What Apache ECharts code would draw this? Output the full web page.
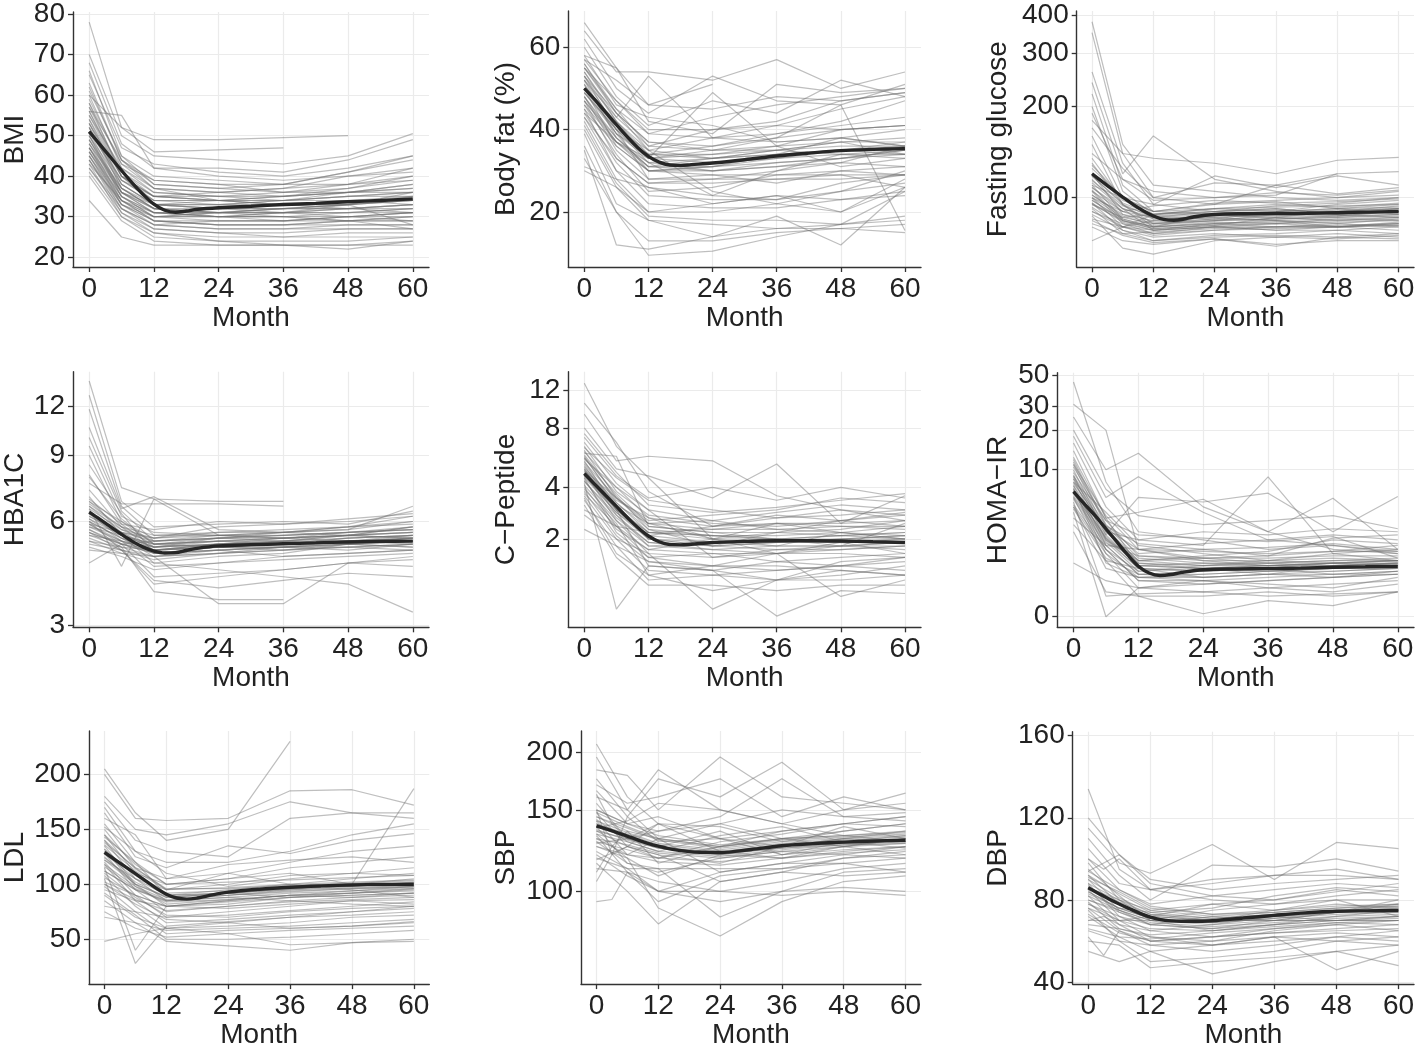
<!DOCTYPE html>
<html><head><meta charset="utf-8">
<script src="https://cdn.jsdelivr.net/npm/echarts@6/dist/echarts.min.js"></script>
<style>html,body{margin:0;padding:0;background:#fff}#c{width:1418px;height:1050px}</style>
</head><body><div id="c"></div><script>
// ---- time grids ----
const monthsStd = [0, 6, 12, 24, 36, 48, 60];
const monthsBP = [0, 3, 6, 12, 24, 36, 48, 60];
const meanMonths = [0, 2, 4, 6, 8, 10, 12, 14, 16, 18, 20, 24, 30, 36, 42, 48, 54, 60];
const xTicks = [0, 12, 24, 36, 48, 60];

// ---- BMI ----
const bmiSubjects = [
 [60,52,49,49,49.5,50,null],[78,52,46,46.5,47,null,null],[70,50,45,44,43,45,50.5],[68,48,42,42,41,44,49],
 [66,45,40,39,38,41,45],[65,47,43,41,40,42,45],[63,44,38,37,38,41,44],[62,44,39,38,36,38,42],
 [60,42,37,36,35,37,40],[58,40,35,34,34,36,38],[57,41,36,35,35,36,36],[56,40,34,33,33,34,35],
 [56,55,42,40,39,40,41],[54,38,33,32,32,33,34],[53,37,32,31,31,32,33],[52,39,34,34,33,33,36],
 [51,36,31,30,30,31,32],[50,35,30,29,29,30,31],[50,38,33,33,34,35,36],[49,36,31,30,31,30,30],
 [48,34,29,28,28,29,29],[47,35,30,30,30,29,30],[47,33,28,27,27,28,28],[46,34,29,28,28,28,28],
 [45,32,27,26,26,27,27],[45,33,30,31,32,33,34],[44,31,27,26,25,26,26],[44,32,28,29,29,30,31],
 [43,30,26,25,25,25,25],[42,31,26,24,24,24,25],[41,30,25,24,23,22,24],[40,29,24,23,23,23,23],
 [34,25,23,23,23,23,24],[48,37,32,32,33,33,34],[55,42,36,35,36,37,39],[61,45,38,37,36,36,37],
 [52,38,33,33,34,35,35],[46,33,29,29,29,30,29],[58,43,39,38,38,38,39],[49,35,31,31,31,33,28],
 [57,44,37,34,33,32,31],[43,34,30,30,31,32,33],[53,40,35,36,37,40,42],[47,36,32,31,30,29,27],
 [50,36,32,31,32,33,35],[54,40,35,34,33,34,34],[46,35,31,31,31,31,32],[52,37,32,30,30,30,31],
 [48,36,33,34,35,36,37],[56,41,35,34,34,35,36],[44,33,29,28,28,29,30],[51,39,35,35,34,34,33],
 [47,34,30,31,32,32,32],[53,39,34,34,35,36,38],[45,34,31,30,29,29,29],[49,37,33,32,31,31,31],
 [59,43,37,36,37,38,40],[42,32,28,27,27,27,27],[55,40,33,32,32,32,33]
];
const bmiMean = [51.0,47.8,44.6,41.4,38.3,35.5,33.1,31.6,31.1,31.4,31.8,32.2,32.6,33.0,33.3,33.7,34.0,34.4];

// ---- Body fat ----
const fatSubjects = [
 [66,55,46,45,48,47,49],[64,54,54,52,57,50,54],[62,50,44,53,47,46,51],[60,48,41,47,44,52,48],
 [58,55,42,39,51,49,50],[57,47,39,43,46,48,50],[56,45,36,40,42,47,49],[55,44,35,38,41,45,48],
 [54,42,34,36,39,42,47],[53,40,33,34,36,40,41],[52,43,53,38,37,38,36],[52,38,31,33,35,37,34],
 [51,39,30,31,33,35,37],[50,36,30,30,32,33,35],[49,40,28,28,30,34,33],[48,35,28,29,27,30,29],
 [48,37,32,24,30,32,36],[47,33,27,28,28,28,29],[46,34,25,26,29,29,26],[45,30,26,22,24,23,25],
 [44,32,24,23,23,25,27],[43,30,22,21,21,23,24],[42,28,20,20,22,20,28],[41,27,19,18,18,17,19],
 [40,26,18,17,16,17,18],[39,22,18,14,16,16,17],[36,20,13,13,15,16,15],[35,12,11,14,19,12,26],
 [33,20,9.5,10.5,14,17,25],[31,28,26,24,23,27,29],[30,26,20,22,24,20,26],[55,47,40,40,41,40,41],
 [53,44,37,35,35,34,34],[50,42,33,49,36,31,33],[47,38,31,30,31,32,31],[44,37,30,31,34,38,36],
 [58,46,43,41,37,38,40],[49,40,35,25,22,25,30],[46,37,33,35,38,46,15.5],[57,52,46,51,null,null,null],
 [52,41,34,33,34,35,36],[49,39,33,32,33,34,35],[54,43,36,35,36,37,37],[47,37,31,31,32,33,34],
 [51,40,32,30,31,33,35],[56,44,37,36,38,40,41],[45,36,30,29,29,30,31],[50,39,34,34,35,36,36],
 [53,42,35,33,34,35,34],[48,38,32,33,35,37,38],[55,45,39,38,39,41,43],[43,33,27,27,28,29,29]
];
const fatMean = [50.0,47.2,44.2,41.2,38.3,35.6,33.5,32.1,31.4,31.3,31.5,31.9,32.7,33.6,34.3,34.9,35.2,35.4];

// ---- Fasting glucose ----
const gluSubjects = [
 [380,150,110,105,100,98,100],[350,140,100,95,97,92,95],[260,130,95,90,92,88,90],[240,120,160,115,105,100,105],
 [220,110,90,88,85,86,88],[200,105,88,92,90,95,98],[180,140,135,130,120,133,136],[170,125,100,112,110,120,122],
 [160,100,85,86,84,82,85],[150,95,82,84,85,87,90],[140,115,105,100,104,102,106],[130,95,80,82,80,80,83],
 [125,100,90,95,110,103,108],[120,88,84,88,90,92,88],[115,92,78,82,84,80,82],[110,85,80,88,86,90,92],
 [108,90,86,85,90,88,86],[105,82,76,80,78,78,80],[102,88,82,84,88,90,94],[100,80,75,78,80,82,80],
 [98,84,80,83,82,85,84],[96,78,72,75,76,78,76],[95,86,88,92,95,93,96],[93,80,78,80,82,80,78],
 [92,76,72,74,75,74,76],[90,82,78,80,78,80,82],[88,78,74,76,74,76,74],[87,68,65,72,74,73,75],
 [85,80,84,86,88,87,90],[84,75,71,73,70,72,72],[82,76,77,79,80,80,81],[80,72,70,73,69,74,73],
 [72,80,88,90,92,88,92],[110,100,95,118,108,118,110],[135,98,90,96,98,100,102],[118,95,86,90,94,96,100],
 [100,90,94,98,96,97,99],[106,84,79,81,86,84,86],[190,115,98,100,102,120,null],
 [105,90,83,85,86,87,88],[112,92,86,88,89,91,92],[98,85,80,82,83,84,85],[118,96,88,90,91,90,92],
 [95,84,79,81,82,83,84],[128,100,90,92,93,94,95],[102,87,81,84,85,86,87],[90,80,76,78,79,80,81],
 [108,92,85,87,87,89,90],[96,83,78,80,80,81,82],[114,94,87,89,90,92,93],[100,86,82,85,84,85,86]
];
const gluMean = [120,113,106.5,100.5,95,90.5,87,84.8,84.2,85,86.5,88,88.5,88.6,88.8,89.2,89.6,90];

// ---- HBA1C ----
const hbaSubjects = [
 [13.9,7.4,6.9,6.8,6.8,null,null],[12.8,6.8,5.8,5.9,6.0,5.9,6.4],[11.8,6.6,5.5,5.6,5.6,5.5,5.8],[10.6,6.5,7.0,5.7,5.6,5.8,6.2],
 [10.0,6.4,5.3,5.4,5.5,5.6,5.7],[9.5,6.2,5.6,5.5,5.6,5.7,6.6],[9.0,6.0,5.2,5.3,5.2,5.4,5.5],[8.5,6.3,4.9,5.0,5.1,5.3,5.2],
 [8.0,5.9,5.1,5.4,5.6,5.7,6.0],[7.6,6.7,6.7,6.7,6.6,null,null],[7.3,5.8,5.0,5.2,5.3,5.5,5.4],[7.0,5.5,4.6,4.8,4.9,5.2,5.1],
 [6.8,5.7,5.4,5.8,5.9,6.0,6.2],[6.6,5.6,5.0,5.1,5.0,5.2,5.3],[6.5,4.5,6.9,5.5,5.4,5.5,5.6],[6.4,5.5,5.1,5.3,5.4,5.5,5.8],
 [6.3,5.4,4.8,4.9,5.0,5.1,5.0],[6.2,5.6,5.3,5.5,5.6,5.8,5.9],[6.1,5.3,4.5,4.6,4.7,4.8,4.9],[6.0,5.4,5.0,5.1,5.2,5.3,5.5],
 [5.9,5.2,4.2,4.3,4.4,4.6,4.7],[5.8,5.5,5.2,5.4,5.3,5.5,5.4],[5.7,5.1,3.8,3.6,3.6,null,null],[5.6,5.0,4.7,4.9,5.1,5.2,5.1],
 [5.5,5.3,5.1,5.2,5.4,5.6,5.7],[5.4,5.0,4.1,3.9,4.1,4.3,4.2],[5.3,4.9,4.6,4.4,4.2,4.0,3.3],[5.2,5.0,4.8,3.5,3.5,4.6,4.8],
 [5.1,4.8,4.4,4.6,4.8,4.9,5.0],[5.0,4.9,4.8,5.0,5.1,5.0,5.2],[4.6,5.2,5.3,5.4,5.5,5.6,5.8],[5.9,5.6,5.4,5.6,5.7,5.8,6.0],
 [6.7,5.8,5.5,5.5,5.4,5.3,5.3],[7.9,6.1,5.2,5.1,5.3,5.2,5.4],[6.9,5.9,5.7,6.0,5.9,6.1,6.3],[5.6,5.2,4.9,5.0,4.8,4.9,5.0],
 [6.0,5.0,4.0,4.2,4.4,4.6,4.5],[5.3,5.1,5.0,5.2,5.2,5.4,5.5],
 [6.2,5.5,5.1,5.2,5.3,5.3,5.4],[5.8,5.3,4.9,5.0,5.1,5.2,5.3],[6.5,5.7,5.2,5.3,5.3,5.4,5.5],[6.0,5.4,5.0,5.1,5.1,5.2,5.3],
 [5.7,5.2,4.9,5.1,5.2,5.3,5.3],[6.3,5.6,5.1,5.2,5.2,5.3,5.4],[5.9,5.3,5.0,5.2,5.2,5.3,5.4],[6.1,5.5,5.2,5.3,5.4,5.5,5.6],
 [5.5,5.1,4.8,4.9,5.0,5.1,5.2],[6.6,5.8,5.3,5.4,5.4,5.5,5.6],[5.6,5.2,5.0,5.1,5.1,5.1,5.2],[6.8,6.0,5.4,5.5,5.5,5.6,5.7]
];
const hbaMean = [6.36,6.08,5.8,5.53,5.29,5.1,4.97,4.91,4.92,4.99,5.06,5.14,5.18,5.21,5.24,5.27,5.29,5.3];

// ---- C-Peptide ----
const cpepSubjects = [
 [13,6.5,4.5,2.0,2.5,2.2,2.0],[10.5,6.8,3.8,2.4,2.8,2.6,2.4],[9.3,5.5,5.8,5.5,3.6,3.0,2.8],[8.0,5.0,4.6,3.5,5.3,2.5,3.6],
 [7.2,4.6,3.5,4.0,3.4,4.0,3.5],[6.8,4.2,3.0,2.6,2.9,3.2,3.0],[6.5,3.8,2.8,2.5,2.4,2.6,2.8],[6.2,3.5,2.6,2.8,3.0,3.5,3.3],
 [6.0,5.8,2.4,2.2,2.0,2.1,2.2],[5.8,3.3,2.2,2.3,2.5,2.4,2.3],[5.5,3.0,2.0,1.8,1.9,2.0,2.1],[5.3,3.2,2.5,2.0,2.2,2.3,2.6],
 [5.0,2.8,1.8,1.9,2.0,1.8,1.7],[4.8,2.6,1.6,1.5,1.7,1.8,1.9],[4.6,2.9,2.1,2.4,2.7,3.0,2.6],[4.4,2.4,1.5,1.6,1.4,1.5,1.6],
 [4.2,0.5,1.3,1.2,1.4,1.3,1.5],[4.0,2.3,1.7,2.0,1.8,2.2,2.0],[3.8,2.1,1.4,1.3,1.2,1.3,1.4],[3.6,2.0,1.2,1.1,1.2,1.3,1.2],
 [3.4,1.8,1.0,1.1,1.0,1.2,1.1],[3.2,1.5,0.9,0.9,0.8,0.9,0.9],[3.0,2.4,2.2,2.1,2.0,1.9,2.0],[2.8,2.0,1.6,0.5,1.0,1.0,1.1],
 [2.3,1.8,1.4,1.2,0.4,0.8,0.75],[5.6,4.0,3.0,1.5,1.6,0.7,1.0],[6.4,4.5,3.4,3.0,2.7,2.8,3.0],[4.9,3.5,2.5,2.6,2.3,2.2,2.4],
 [5.2,3.0,1.3,1.2,1.0,1.1,1.3],[4.3,2.7,1.9,1.7,1.6,1.7,1.8],[3.9,2.5,1.1,0.8,1.0,1.4,1.5],[5.9,3.6,2.3,1.8,2.2,2.6,2.9],
 [4.5,2.2,1.5,1.3,1.3,1.2,1.1],[3.5,1.6,1.1,1.3,1.6,1.9,1.6],[7.5,4.8,3.2,2.9,3.1,3.4,3.7],[5.7,3.4,2.7,2.0,1.6,1.8,2.5],
 [4.7,3.0,2.1,1.9,1.9,2.0,2.0],[5.1,3.3,2.3,2.1,2.1,2.2,2.1],[4.5,2.9,2.0,1.8,1.9,1.9,1.9],[5.4,3.5,2.4,2.2,2.2,2.1,2.0],
 [4.1,2.6,1.8,1.7,1.8,1.8,1.8],[4.9,3.1,2.2,2.0,2.0,2.1,2.2],[5.7,3.7,2.5,2.3,2.3,2.4,2.4],[4.3,2.8,1.9,1.8,1.7,1.7,1.8],
 [6.1,4.0,2.7,2.4,2.5,2.5,2.6],[3.7,2.4,1.7,1.6,1.6,1.6,1.5],[5.0,3.2,2.0,1.9,1.8,1.8,1.9],[4.6,3.0,2.2,2.1,2.0,2.0,2.1]
];
const cpepMean = [4.73,4.14,3.61,3.14,2.72,2.36,2.09,1.92,1.84,1.83,1.85,1.90,1.93,1.95,1.95,1.94,1.92,1.90];

// ---- HOMA-IR ----
const homaSubjects = [
 [45,8,3,2.5,2,2.2,1.8],[31,20,2,1.5,1.3,1.4,1.5],[25,10,13.4,5,3,2,1.8],[18,6,8.8,4.5,2.5,2.8,2.5],
 [16,5,2.5,2.2,8.8,1.8,1.5],[14,4,4.5,5.8,3,5.9,2.0],[12,3.5,1.8,2,1.7,1.9,2.2],[11,3,1.5,1.3,1.4,1.3,1.4],
 [10,2.8,6.0,5.5,6.5,3,6.1],[9,2.5,1.2,1.1,1.2,1.0,1.1],[8.5,2.2,1.0,0.9,1.0,1.1,1.2],[8,4.5,2.2,1.8,1.5,1.6,1.5],
 [7.5,2.0,0.8,0.7,0.8,0.9,1.0],[7,1.8,0.6,0.5,0.6,0.7,0.8],[6.5,2.5,1.5,1.7,1.9,2.5,2.3],[6,1.5,0.4,0.4,0.5,0.4,0.5],
 [5.5,0.4,0.45,0.5,0.4,0.45,0.5],[5,1.2,0.9,1.0,1.1,1.2,1.3],[4.5,0.0,0.6,0.8,0.7,0.6,0.9],[4,2.2,2.0,2.3,2.5,2.2,1.9],
 [3.5,1.5,1.2,0.9,1.0,1.3,1.4],[3,0.5,0.4,0.05,0.3,0.2,0.5],[1.4,0.8,0.6,0.7,0.8,0.9,1.0],[7.8,3.2,2.0,1.6,1.7,2.6,2.8],
 [9.5,3.8,2.8,2.6,2.4,2.7,1.6],[6.8,2.6,1.4,1.2,1.3,1.2,1.2],[5.8,2.0,1.1,1.3,1.5,1.8,2.0],[12.5,4.0,1.3,1.2,1.0,0.9,1.1],
 [7.2,1.4,0.9,0.8,0.6,0.5,0.7],[8.8,3.0,2.5,3.0,2.8,3.2,3.0],[4.8,1.6,1.0,1.1,1.2,1.4,1.3],[6.2,2.3,1.7,1.6,1.4,1.5,1.6],
 [20,7,4.2,3.5,3.8,4.2,3.2],[11.5,3.4,2.3,2.0,2.1,2.3,2.0],
 [7,2.6,1.2,1.1,1.2,1.2,1.3],[8,3,1.4,1.3,1.3,1.4,1.4],[6,2.2,1.0,1.0,1.1,1.1,1.2],[9,3.4,1.6,1.4,1.4,1.5,1.5],
 [5,1.8,0.9,0.9,1.0,1.0,1.1],[10.5,3.8,1.7,1.5,1.5,1.4,1.5],[7.5,2.8,1.3,1.2,1.1,1.2,1.3],[6.5,2.4,1.1,1.2,1.3,1.3,1.4],
 [8.5,3.2,1.5,1.6,1.6,1.7,1.7],[5.2,2.0,0.8,0.8,0.9,1.0,1.0],[11,4.2,2.0,1.9,1.8,1.9,1.9],[6.8,2.7,1.3,1.4,1.3,1.4,1.5]
];
const homaMean = [6.7,5.3,4.2,3.2,2.4,1.75,1.28,1.04,0.96,0.99,1.06,1.15,1.18,1.19,1.21,1.24,1.26,1.28];

// ---- LDL ----
const ldlSubjects = [
 [205,165,140,150,230,null,null],[200,160,158,160,185,186,172],[180,150,145,155,175,165,160],[175,140,130,125,160,165,165],
 [170,130,120,120,130,145,155],[165,125,115,135,128,140,146],[160,145,105,110,120,130,135],[155,120,100,105,115,120,125],
 [150,115,95,100,108,110,115],[145,110,90,95,100,105,110],[140,105,85,90,95,98,102],[135,100,80,85,90,92,95],
 [130,110,100,105,110,100,187],[128,95,75,80,85,88,90],[125,100,88,92,96,100,105],[120,90,70,75,80,85,82],
 [118,85,65,68,72,75,78],[115,40,80,82,88,92,96],[110,88,72,70,75,78,80],[108,80,60,62,65,70,72],
 [105,28,62,66,70,72,75],[100,82,68,65,60,62,66],[98,75,55,58,60,62,65],[95,85,80,85,90,88,92],
 [92,72,50,50,52,55,58],[90,70,60,55,45,47,50],[85,65,48,44,40,47,48],[80,75,70,72,76,80,84],
 [75,60,52,55,58,60,62],[70,65,58,60,62,65,68],[48,55,60,65,70,75,80],[138,115,105,118,122,125,120],
 [152,130,110,98,105,110,108],[122,105,95,110,100,95,88],[112,95,85,88,85,82,80],[102,90,80,78,82,85,86],
 [132,98,82,86,90,94,98],[143,120,90,92,88,90,92],
 [128,105,90,92,95,97,98],[118,98,86,90,94,96,98],[136,112,95,97,100,102,104],[112,95,84,86,90,92,94],
 [124,102,88,92,96,99,100],[145,118,100,102,104,106,108],[106,90,80,84,88,90,92],[132,108,92,94,97,100,101],
 [100,86,76,80,84,86,88],[140,114,96,96,99,101,103],[116,96,85,88,92,94,96],[122,100,89,90,93,96,97]
];
const ldlMean = [129,122.5,116,109.6,103,96.5,91,87.5,86.5,87.5,89.5,92.8,95.5,97.3,98.5,99.4,99.8,100];

// ---- SBP ----
const sbpSubjects = [
 [208,null,160,140,130,135,140,145],[195,null,150,183,150,140,150,155],[183,null,178,150,195,160,155,150],[175,null,145,175,160,190,150,163],
 [170,null,155,160,175,145,160,150],[165,null,140,135,145,175,145,148],[160,null,150,130,140,130,135,140],[155,null,130,125,120,125,130,135],
 [150,null,140,145,130,120,128,132],[148,null,125,120,115,125,130,128],[145,null,135,115,125,135,140,138],[142,null,120,130,110,115,120,125],
 [140,null,130,125,135,120,125,130],[138,null,115,110,118,122,120,118],[135,null,125,120,105,110,118,122],[132,null,110,105,100,105,112,115],
 [130,null,120,118,125,130,125,120],[128,null,115,112,88,100,110,112],[125,null,118,92,80,95,105,108],[122,null,112,100,110,115,115,110],
 [120,null,108,100,95,100,102,100],[118,null,112,112,112,112,115,118],[115,null,100,85,105,110,108,110],[112,null,110,100,100,98,100,98],
 [110,125,135,130,125,130,132,135],[105,120,125,140,138,128,135,140],[95,96,110,95,108,112,118,120],[150,120,145,128,130,125,138,130],
 [162,140,130,135,140,150,145,142],[137,null,142,155,150,140,132,128],[127,null,130,140,122,118,125,130],[117,null,125,118,128,133,140,145],
 [133,null,118,108,120,118,122,125],[143,null,128,122,132,138,128,124],
 [140,null,133,126,122,126,128,130],[135,null,130,124,120,124,127,128],[145,null,137,129,124,128,130,132],[130,null,126,121,118,122,125,127],
 [138,null,131,125,121,125,127,129],[150,null,140,132,126,130,132,134],[128,null,123,118,116,120,123,125],[142,null,134,127,123,127,129,131],
 [125,null,120,116,114,118,121,123],[148,null,138,130,125,129,131,133],[133,null,128,122,119,123,126,128],[136,null,129,124,121,124,126,127]
];
const sbpMean = [138.6,136.3,134,131.6,129.2,127,125.2,123.7,122.6,121.9,121.5,121.3,123.2,125.5,126.8,127.8,128.5,129];

// ---- DBP ----
const dbpSubjects = [
 [134,null,95,85,80,78,82,85],[120,null,102,90,85,88,90,92],[115,null,98,93,107,90,108,105],[110,null,92,80,97,96,100,94],
 [105,null,88,85,90,92,92,90],[100,null,85,78,82,85,88,86],[98,null,80,75,78,80,85,82],[95,null,82,70,75,78,80,80],
 [92,null,78,72,70,75,78,76],[90,null,75,68,72,70,74,78],[88,null,72,65,68,72,70,72],[86,null,80,70,65,68,72,75],
 [85,null,70,62,60,65,68,70],[82,null,68,60,62,64,66,68],[80,null,75,70,70,70,70,70],[78,null,70,72,78,75,80,72],
 [76,null,65,58,55,58,62,65],[75,null,60,50,52,55,60,62],[72,null,62,55,44,50,55,58],[70,null,70,70,70,70,70,70],
 [70,72,68,65,62,64,65,66],[68,null,66,63,65,68,70,72],[65,null,60,58,60,62,46,55],[62,53,65,60,58,60,62,60],
 [60,null,58,47,50,52,55,48],[55,null,50,55,58,62,60,58],[100,95,100,85,88,92,95,90],[94,null,102,88,82,80,84,88],
 [87,null,74,68,66,70,74,80],[84,null,76,74,76,82,86,84],[79,null,66,62,58,62,64,62],[73,null,64,60,62,66,68,65],
 [91,null,84,76,73,74,76,78],[66,null,62,61,64,66,69,68],
 [86,null,78,72,70,72,74,75],[82,null,75,70,68,70,72,73],[90,null,81,74,71,73,75,76],[84,null,76,71,69,71,73,74],
 [88,null,80,73,70,72,74,76],[80,null,74,69,67,69,71,72],[92,null,83,75,72,74,76,77],[78,null,72,68,66,68,70,71],
 [86,null,79,73,71,73,75,77],[76,null,70,66,65,67,69,70],[94,null,85,77,73,75,77,78],[83,null,76,71,69,71,74,75]
];
const dbpMean = [85.9,83.2,80.5,78,75.7,73.5,71.7,70.4,69.8,69.6,69.6,69.9,71.2,72.5,73.7,74.5,74.7,74.8];

// ---- tick labels ----
const bmiTicks = [20,30,40,50,60,70,80];
const fatTicks = [20,40,60];
const gluTicks = [100,200,300,400];
const hbaTicks = [3,6,9,12];
const cpepTicks = [2,4,8,12];
const homaTicks = [0,10,20,30,50];
const ldlTicks = [50,100,150,200];
const sbpTicks = [100,150,200];
const dbpTicks = [40,80,120,160];

// ---- panel definitions (data + scale type) ----
const panels = [
 {title:'BMI', subj:bmiSubjects, months:monthsStd, mean:bmiMean, ticks:bmiTicks, log:false, min:17.6, max:80.5},
 {title:'Body fat (%)', subj:fatSubjects, months:monthsStd, mean:fatMean, ticks:fatTicks, log:false, min:6.65, max:68.8},
 {title:'Fasting glucose', subj:gluSubjects, months:monthsStd, mean:gluMean, ticks:gluTicks, log:true, min:1.7762, max:2.6162},
 {title:'HBA1C', subj:hbaSubjects, months:monthsStd, mean:hbaMean, ticks:hbaTicks, log:true, min:0.598, max:1.195},
 {title:'C\u2212Peptide', subj:cpepSubjects, months:monthsStd, mean:cpepMean, ticks:cpepTicks, log:true, min:0.098, max:1.1955},
 {title:'HOMA\u2212IR', subj:homaSubjects, months:monthsStd, mean:homaMean, ticks:homaTicks, log:true, min:-0.075, max:1.729},
 {title:'LDL', subj:ldlSubjects, months:monthsStd, mean:ldlMean, ticks:ldlTicks, log:false, min:9.2, max:239.4},
 {title:'SBP', subj:sbpSubjects, months:monthsBP, mean:sbpMean, ticks:sbpTicks, log:true, min:1.8054, max:2.3481},
 {title:'DBP', subj:dbpSubjects, months:monthsBP, mean:dbpMean, ticks:dbpTicks, log:false, min:39.04, max:161.9}
];

// ---- layout (pixels) ----
const layout = [
 {left:71.7, top:11, width:357.3, height:256, gap:44},
 {left:568.3, top:11, width:352.7, height:256, gap:47.6},
 {left:1076.7, top:11, width:337.3, height:256.3, gap:64.4},
 {left:71.7, top:371.7, width:357.3, height:255.6, gap:44},
 {left:568.3, top:371.7, width:352.7, height:255.6, gap:47.6},
 {left:1057.3, top:372.7, width:356.7, height:254.6, gap:45},
 {left:87.3, top:731, width:342, height:257.3, gap:60},
 {left:581, top:731, width:340, height:257.3, gap:60.3},
 {left:1072.7, top:731.7, width:341.3, height:256, gap:60.4}
];

const FONT = 'Liberation Sans, Arial, Helvetica, sans-serif';
const TXT = '#222';
const grids = [], xAxes = [], yAxes = [], series = [];

panels.forEach((p, i) => {
  const L = layout[i];
  const tf = p.log ? (v => Math.log10(v + 1)) : (v => v);
  grids.push({left:L.left, top:L.top, width:L.width, height:L.height, containLabel:false});
  xAxes.push({
    type:'value', gridIndex:i, min:-3, max:63,
    name:'Month', nameLocation:'middle', nameGap:36,
    nameTextStyle:{fontSize:28, color:TXT, fontFamily:FONT},
    axisLine:{show:true, onZero:false, lineStyle:{color:'#333', width:1.4}},
    axisTick:{show:true, length:5, customValues:xTicks, lineStyle:{color:'#333', width:1.3}},
    axisLabel:{customValues:xTicks, fontSize:28, color:TXT, fontFamily:FONT, margin:8},
    splitLine:{show:true, lineStyle:{color:'#ebebeb', width:1.2}}
  });
  const yt = p.ticks.map(tf);
  yAxes.push({
    type:'value', gridIndex:i, min:p.min, max:p.max,
    name:p.title, nameLocation:'middle', nameGap:L.gap,
    nameTextStyle:{fontSize:28, color:TXT, fontFamily:FONT},
    axisLine:{show:true, onZero:false, lineStyle:{color:'#333', width:1.4}},
    axisTick:{show:true, length:5, customValues:yt, lineStyle:{color:'#333', width:1.3}},
    axisLabel:{customValues:yt, fontSize:28, color:TXT, fontFamily:FONT, margin:8,
      formatter: v => String(Math.round(p.log ? Math.pow(10, v) - 1 : v))},
    splitLine:{show:true, lineStyle:{color:'#ebebeb', width:1.2}}
  });
  p.subj.forEach(s => {
    const d = [];
    s.forEach((v, k) => { if (v !== null) d.push([p.months[k], tf(v)]); });
    series.push({type:'line', xAxisIndex:i, yAxisIndex:i, data:d, symbol:'none', silent:true,
      lineStyle:{color:'rgba(110,110,110,0.45)', width:1.2}, z:2});
  });
  series.push({type:'line', xAxisIndex:i, yAxisIndex:i, symbol:'none', silent:true, smooth:0.35,
    data: meanMonths.map((m, k) => [m, tf(p.mean[k])]),
    lineStyle:{color:'#262626', width:3.4}, z:5});
});

const chart = echarts.init(document.getElementById('c'), null, {renderer:'canvas'});
chart.setOption({animation:false, backgroundColor:'#fff', grid:grids, xAxis:xAxes, yAxis:yAxes, series:series});
</script></body></html>
